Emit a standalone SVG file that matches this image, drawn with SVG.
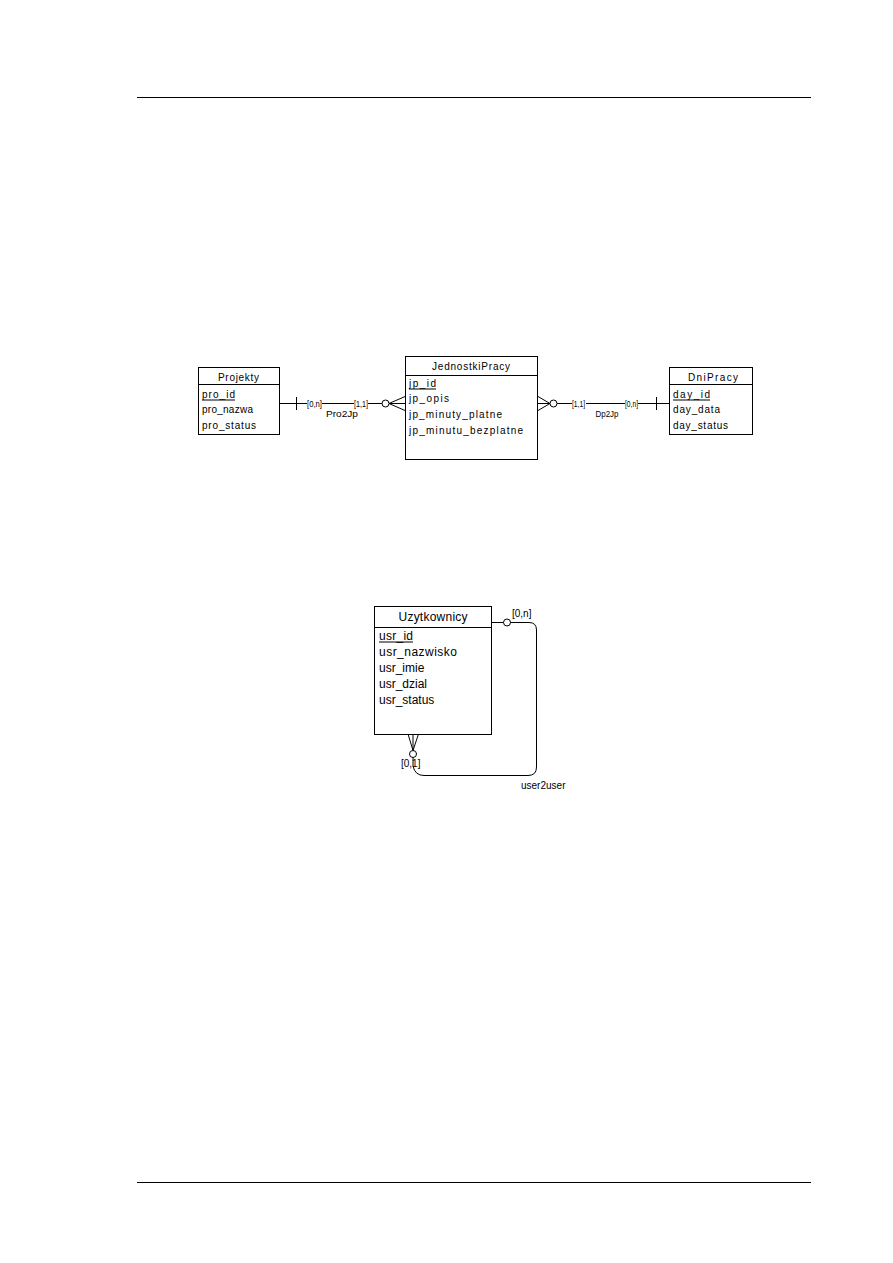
<svg xmlns="http://www.w3.org/2000/svg" width="893" height="1263" viewBox="0 0 893 1263">
<style>
.box{fill:#fff;stroke:#000;stroke-width:1}
.ln{stroke:#000;stroke-width:1;fill:none}
.px{font-family:"Liberation Sans",Arial,sans-serif;font-size:10px;fill:#000}
.ar{font-family:"Liberation Sans",Arial,sans-serif;font-size:12px;fill:#000}
.lb{font-family:"Liberation Sans",Arial,sans-serif;font-size:9px;fill:#000}
.lb2{font-family:"Liberation Sans",Arial,sans-serif;font-size:10px;fill:#000}
</style>
<rect width="893" height="1263" fill="#fff"/>
<g id="page">
<line x1="137" y1="97.5" x2="811" y2="97.5" stroke="#000" stroke-width="1.2"/>
<line x1="137" y1="1182.5" x2="811" y2="1182.5" stroke="#000" stroke-width="1.2"/>
</g>
<g id="connectors">
<!-- Pro2Jp -->
<line class="ln" x1="280" y1="403.5" x2="307" y2="403.5"/>
<line class="ln" x1="296.5" y1="397" x2="296.5" y2="410"/>
<line class="ln" x1="322" y1="403.5" x2="354" y2="403.5"/>
<line class="ln" x1="368" y1="403.5" x2="382" y2="403.5"/>
<circle class="ln" cx="385.5" cy="403.5" r="3.5"/>
<path class="ln" d="M389 403.5 L405 396.5 M389 403.5 L405 403.5 M389 403.5 L405 410.5"/>
<text class="lb" x="307" y="407" textLength="15" lengthAdjust="spacingAndGlyphs">[0,n]</text>
<text class="lb" x="354" y="407" textLength="14" lengthAdjust="spacingAndGlyphs">[1,1]</text>
<text class="lb" x="342" y="416.5" text-anchor="middle" textLength="32" lengthAdjust="spacingAndGlyphs">Pro2Jp</text>
<!-- Dp2Jp -->
<path class="ln" d="M538 396.5 L550 403.5 M538 403.5 L550 403.5 M538 410.5 L550 403.5"/>
<circle class="ln" cx="553.5" cy="403.5" r="3.5"/>
<line class="ln" x1="557" y1="403.5" x2="572" y2="403.5"/>
<line class="ln" x1="586" y1="403.5" x2="625" y2="403.5"/>
<line class="ln" x1="638" y1="403.5" x2="669" y2="403.5"/>
<line class="ln" x1="656.5" y1="397" x2="656.5" y2="410"/>
<text class="lb" x="572" y="407" textLength="13" lengthAdjust="spacingAndGlyphs">[1,1]</text>
<text class="lb" x="625" y="407" textLength="13" lengthAdjust="spacingAndGlyphs">[0,n]</text>
<text class="lb" x="607" y="416.5" text-anchor="middle" textLength="23" lengthAdjust="spacingAndGlyphs">Dp2Jp</text>
<!-- user2user -->
<line class="ln" x1="492" y1="622.5" x2="503.5" y2="622.5"/>
<circle class="ln" cx="507" cy="622.5" r="3.5"/>
<path class="ln" d="M510.5 622.5 L529 622.5 Q536.5 622.5 536.5 630 L536.5 767 Q536.5 775.5 528 775.5 L424 775.5 Q415 775.5 413 766 L413 757.5"/>
<circle class="ln" cx="413" cy="754" r="3.5"/>
<path class="ln" d="M408 734 L413 750.5 M413 734 L413 750.5 M418.5 734 L413 750.5"/>
<text class="lb2" x="512" y="617">[0,n]</text>
<text class="lb2" x="401" y="767">[0,1]</text>
<text class="lb2" x="521" y="789">user2user</text>
</g>
<g id="Projekty">
<rect class="box" x="198.5" y="367.5" width="81" height="67"/>
<line class="ln" x1="198.5" y1="384.5" x2="279.5" y2="384.5"/>
<text class="px" x="218" y="381" textLength="41" lengthAdjust="spacing">Projekty</text>
<text class="px" x="202" y="397.5" textLength="33" lengthAdjust="spacing">pro_id</text>
<line class="ln" x1="202" y1="400" x2="235" y2="400"/>
<text class="px" x="202" y="413" textLength="51" lengthAdjust="spacing">pro_nazwa</text>
<text class="px" x="202" y="428.5" textLength="54" lengthAdjust="spacing">pro_status</text>
</g>
<g id="JednostkiPracy">
<rect class="box" x="405.5" y="356.5" width="132" height="103"/>
<line class="ln" x1="405.5" y1="375.5" x2="537.5" y2="375.5"/>
<text class="px" x="432" y="370" textLength="78" lengthAdjust="spacing">JednostkiPracy</text>
<text class="px" x="409" y="386.5" textLength="27" lengthAdjust="spacing">jp_id</text>
<line class="ln" x1="409" y1="389" x2="436" y2="389"/>
<text class="px" x="409" y="402" textLength="40" lengthAdjust="spacing">jp_opis</text>
<text class="px" x="409" y="417.5" textLength="93" lengthAdjust="spacing">jp_minuty_platne</text>
<text class="px" x="409" y="433.5" textLength="114" lengthAdjust="spacing">jp_minutu_bezplatne</text>
</g>
<g id="DniPracy">
<rect class="box" x="669.5" y="367.5" width="83" height="67"/>
<line class="ln" x1="669.5" y1="384.5" x2="752.5" y2="384.5"/>
<text class="px" x="688" y="381" textLength="50" lengthAdjust="spacing">DniPracy</text>
<text class="px" x="673" y="397.5" textLength="37" lengthAdjust="spacing">day_id</text>
<line class="ln" x1="673" y1="400" x2="710" y2="400"/>
<text class="px" x="673" y="413" textLength="47" lengthAdjust="spacing">day_data</text>
<text class="px" x="673" y="428.5" textLength="55" lengthAdjust="spacing">day_status</text>
</g>
<g id="Uzytkownicy">
<rect class="box" x="374.5" y="606.5" width="117" height="128"/>
<line class="ln" x1="374.5" y1="627.5" x2="491.5" y2="627.5"/>
<text class="ar" x="433" y="621" text-anchor="middle" textLength="69" lengthAdjust="spacing">Uzytkownicy</text>
<text class="ar" x="379" y="640" textLength="34" lengthAdjust="spacing">usr_id</text>
<line class="ln" x1="379" y1="642" x2="413" y2="642"/>
<text class="ar" x="379" y="656" textLength="78" lengthAdjust="spacing">usr_nazwisko</text>
<text class="ar" x="379" y="672">usr_imie</text>
<text class="ar" x="379" y="688">usr_dzial</text>
<text class="ar" x="379" y="704">usr_status</text>
</g>
</svg>
